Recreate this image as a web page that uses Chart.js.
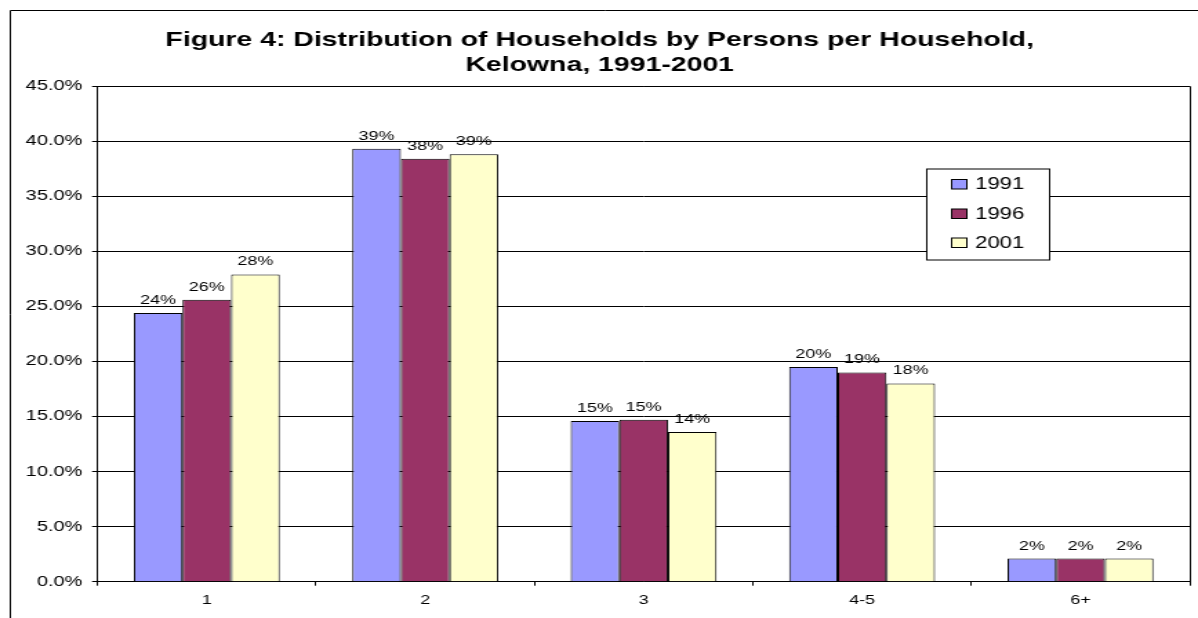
<!DOCTYPE html>
<html>
<head>
<meta charset="utf-8">
<script src="https://cdn.jsdelivr.net/npm/chart.js@4.4.1/dist/chart.umd.min.js"></script>
<style>
  html, body { margin: 0; padding: 0; background: #fff; overflow: hidden; }
  #wrap { position: absolute; left: 0; top: 0; width: 868px; height: 618px;
          transform: scaleX(1.38018); transform-origin: 0 0; }
</style>
</head>
<body>
<div id="wrap"><canvas id="c"></canvas></div>
<script>
// ---- data ----
const categories = ["1", "2", "3", "4-5", "6+"];
const seriesNames = ["1991", "1996", "2001"];
const values1991 = [24.4, 39.3, 14.6, 19.5, 2.1];
const values1996 = [25.6, 38.4, 14.7, 19.0, 2.1];
const values2001 = [27.9, 38.8, 13.6, 18.0, 2.1];
const titleLines = ["Figure 4: Distribution of Households by Persons per Household,", "Kelowna, 1991-2001"];
const yMin = 0, yMax = 45, yStep = 5;

const FONT = "'Liberation Sans', Arial, Helvetica, sans-serif";
const colors = ["#9999FF", "#993366", "#FFFFCC"];

const frameAndLabels = {
  id: 'frameAndLabels',
  afterDraw(chart) {
    const ctx = chart.ctx;
    const a = chart.chartArea;
    ctx.save();
    // outer frame
    ctx.strokeStyle = '#000';
    ctx.lineWidth = 1;
    ctx.beginPath();
    ctx.moveTo(7.5, chart.height + 5);
    ctx.lineTo(7.5, 10.5);
    ctx.lineTo(chart.width + 5, 10.5);
    ctx.stroke();
    // plot area top & right border
    ctx.beginPath();
    ctx.moveTo(a.left, Math.round(a.top) + 0.5);
    ctx.lineTo(Math.round(a.right) + 0.5, Math.round(a.top) + 0.5);
    ctx.lineTo(Math.round(a.right) + 0.5, a.bottom);
    ctx.stroke();
    // data labels
    ctx.fillStyle = '#000';
    ctx.font = '13px ' + FONT;
    ctx.textAlign = 'center';
    ctx.textBaseline = 'alphabetic';
    chart.data.datasets.forEach((ds, i) => {
      const meta = chart.getDatasetMeta(i);
      meta.data.forEach((bar, j) => {
        ctx.fillText(Math.round(ds.data[j]) + '%', bar.x, bar.y - 9);
      });
    });
    // legend box
    const bx = 671, by = 168.5, bw = 89, bh = 91;
    ctx.fillStyle = '#fff';
    ctx.fillRect(bx, by, bw, bh);
    ctx.strokeStyle = '#000';
    ctx.strokeRect(bx + 0.5, by + 0.5, bw, bh);
    const baselines = [189, 218.5, 247.5];
    ctx.font = '16px ' + FONT;
    ctx.textAlign = 'left';
    chart.data.datasets.forEach((ds, i) => {
      const yb = baselines[i];
      ctx.fillStyle = ds.backgroundColor;
      ctx.fillRect(689.5, yb - 9.5, 11, 9.5);
      ctx.strokeStyle = '#000';
      ctx.lineWidth = 1;
      ctx.strokeRect(689.5, yb - 9.5, 11, 9.5);
      ctx.fillStyle = '#000';
      ctx.fillText(ds.label, 706.5, yb);
    });
    ctx.restore();
  }
};

new Chart(document.getElementById('c'), {
  type: 'bar',
  data: {
    labels: categories,
    datasets: [
      { label: seriesNames[0], data: values1991, backgroundColor: colors[0] },
      { label: seriesNames[1], data: values1996, backgroundColor: colors[1] },
      { label: seriesNames[2], data: values2001, backgroundColor: colors[2] }
    ].map(d => Object.assign(d, { borderColor: '#000', borderWidth: 1,
                                   categoryPercentage: 0.668, barPercentage: 1.0 }))
  },
  options: {
    responsive: true,
    maintainAspectRatio: false,
    animation: false,
    devicePixelRatio: 1,
    layout: { padding: { left: 7, right: 6, top: 0, bottom: 0 } },
    plugins: {
      legend: { display: false },
      tooltip: { enabled: false },
      title: {
        display: true,
        text: titleLines,
        color: '#000',
        font: { family: FONT, size: 20.6, weight: 'bold', lineHeight: 1.2 },
        padding: { top: 28, bottom: 8.6 }
      }
    },
    scales: {
      x: {
        offset: true,
        grid: { display: true, offset: true, drawOnChartArea: false, drawTicks: true,
                tickLength: 4, color: '#000', tickColor: '#000' },
        border: { display: true, color: '#000', width: 1 },
        ticks: { color: '#000', font: { family: FONT, size: 13 }, padding: 7, maxRotation: 0 },
        afterFit(scale) { scale.height = 36.3; }
      },
      y: {
        min: yMin, max: yMax,
        grid: { color: '#000', tickColor: '#000', tickLength: 4, lineWidth: 1 },
        border: { display: true, color: '#000', width: 1 },
        ticks: { stepSize: yStep, color: '#000', font: { family: FONT, size: 14.5 }, padding: 7,
                 callback: v => v.toFixed(1) + '%' },
        afterFit(scale) { scale.width = 63.7; }
      }
    }
  },
  plugins: [frameAndLabels]
});
</script>
</body>
</html>
